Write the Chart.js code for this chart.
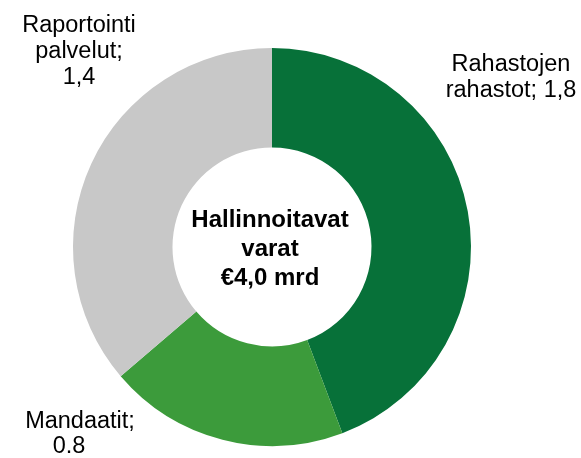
<!DOCTYPE html>
<html lang="fi">
<head>
  <meta charset="UTF-8" />
  <title>Hallinnoitavat varat</title>
  <script src="https://cdn.jsdelivr.net/npm/chart.js"></script>
  <style>
    html, body { margin: 0; padding: 0; background: #fff; }
    #wrap { width: 581px; height: 458px; position: relative; }
  </style>
</head>
<body>
  <div id="wrap"><canvas id="donut"></canvas></div>

  <script>
// data luettu kuvasta (kulmat), tekstit kuten kuvassa
const categories = ['Rahastojen rahastot', 'Mandaatit', 'Raportointi palvelut'];
const values = [1.77, 0.78, 1.45];
const valueLabels = ['1,8', '0.8', '1,4'];
const colors = ['#077139', '#3c9b3b', '#c8c8c8'];
const centerLines = ['Hallinnoitavat', 'varat', '€4,0 mrd'];

const font = '"Liberation Sans", Arial, sans-serif';

// tekstien paikat (rivit + keskikohta x, ensimmäinen baseline y)
const labelSpots = [
  { lines: ['Rahastojen', 'rahastot; ' + valueLabels[0]], x: 511, y: 71, lh: 26 },
  { lines: ['Mandaatit;', valueLabels[1]], xs: [80, 69], y: 428, lh: 25 },
  { lines: ['Raportointi', 'palvelut;', valueLabels[2]], x: 79, y: 32, lh: 26 }
];

const textPlugin = {
  id: 'texts',
  afterDraw(chart) {
    const ctx = chart.ctx;
    const meta = chart.getDatasetMeta(0);
    const arc = meta.data[0];
    ctx.save();
    ctx.fillStyle = '#000';
    ctx.textAlign = 'center';
    ctx.textBaseline = 'alphabetic';

    ctx.font = '23.5px ' + font;
    labelSpots.forEach(s => {
      s.lines.forEach((t, i) => {
        const x = s.xs ? s.xs[i] : s.x;
        ctx.fillText(t, x, s.y + i * s.lh);
      });
    });

    ctx.font = 'bold 24px ' + font;
    const cy = arc.y - 20;
    centerLines.forEach((t, i) => ctx.fillText(t, arc.x - 2, cy + i * 29));
    ctx.restore();
  }
};

new Chart(document.getElementById('donut'), {
  type: 'doughnut',
  data: {
    labels: categories,
    datasets: [{
      data: values,
      backgroundColor: colors,
      borderWidth: 0,
      hoverOffset: 0
    }]
  },
  options: {
    responsive: true,
    maintainAspectRatio: false,
    animation: false,
    cutout: '50%',
    layout: { padding: { left: 73, right: 110, top: 48, bottom: 12 } },
    plugins: {
      legend: { display: false },
      tooltip: { enabled: false }
    }
  },
  plugins: [textPlugin]
});
  </script>
</body>
</html>
